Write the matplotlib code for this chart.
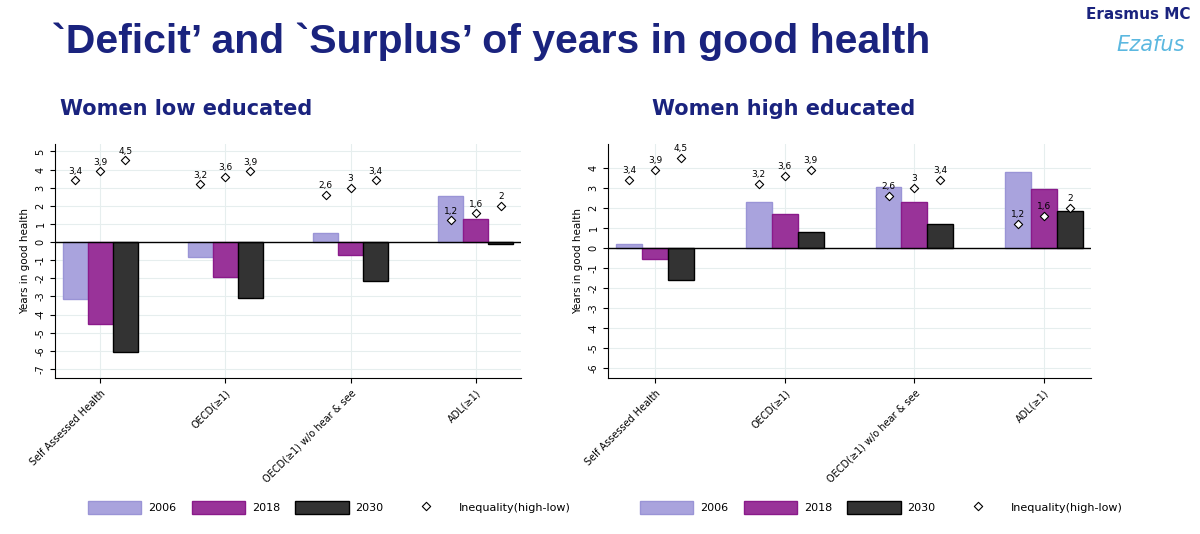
import numpy as np
import matplotlib.pyplot as plt

categories = ["Self Assessed Health", "OECD(≥1)", "OECD(≥1) w/o hear & see", "ADL(≥1)"]
years = ["2006", "2018", "2030"]

# deficit / surplus, women low educated
low_2006 = [-3.15, -0.85, 0.5, 2.55]
low_2018 = [-4.5, -1.9, -0.7, 1.3]
low_2030 = [-6.05, -3.1, -2.15, -0.12]
# women high educated
high_2006 = [0.2, 2.3, 3.05, 3.8]
high_2018 = [-0.55, 1.7, 2.3, 2.95]
high_2030 = [-1.6, 0.8, 1.2, 1.85]
# inequality (high-low), same for both panels
ineq = [[3.4, 3.9, 4.5], [3.2, 3.6, 3.9], [2.6, 3.0, 3.4], [1.2, 1.6, 2.0]]
ineq_labels = [["3,4", "3,9", "4,5"], ["3,2", "3,6", "3,9"], ["2,6", "3", "3,4"], ["1,2", "1,6", "2"]]

fills = ["#a9a3dd", "#993399", "#333333"]
edges = ["#9a94d6", "#8a1a8a", "#000000"]

fig = plt.figure(figsize=(12, 5.34), dpi=100)
fig.text(0.043, 0.9, "`Deficit’ and `Surplus’ of years in good health", fontsize=29.5,
         fontweight="bold", color="#1a237e", family="Liberation Sans")
fig.text(0.905, 0.965, "Erasmus MC", fontsize=11, fontweight="bold", color="#1a237e")
fig.text(0.93, 0.905, "Ezafus", fontsize=15, color="#5bb8e0", style="italic")
fig.text(0.05, 0.785, "Women low educated", fontsize=15, fontweight="bold", color="#1a237e")
fig.text(0.543, 0.785, "Women high educated", fontsize=15, fontweight="bold", color="#1a237e")


def panel(rect, series, ylim, yticks):
    ax = fig.add_axes(rect)
    x = np.arange(len(categories))
    w = 0.2
    for i, vals in enumerate(series):
        ax.bar(x + (i - 1) * w, vals, w, color=fills[i], edgecolor=edges[i], linewidth=1, zorder=3,
               label=years[i])
    for c in range(len(categories)):
        for i in range(3):
            xi = x[c] + (i - 1) * w
            ax.scatter(xi, ineq[c][i], marker="D", s=18, facecolor="white", edgecolor="black",
                       linewidth=0.8, zorder=4, label="Inequality(high-low)" if c == 0 and i == 0 else None)
            ax.text(xi, ineq[c][i] + 0.25, ineq_labels[c][i], fontsize=6.5, ha="center", va="bottom", zorder=5)
    ax.axhline(0, color="black", linewidth=1, zorder=3)
    ax.set_xlim(-0.36, 3.36)
    ax.set_ylim(*ylim)
    ax.set_yticks(yticks)
    ax.set_yticklabels([str(t) for t in yticks], rotation=90, va="center", fontsize=7)
    ax.set_xticks(x)
    ax.set_xticklabels(categories, rotation=45, ha="right", rotation_mode="anchor", fontsize=7)
    ax.set_ylabel("Years in good health", fontsize=7.5)
    ax.grid(True, color="#e6eeee", linewidth=0.8, zorder=0)
    for s in ["top", "right"]:
        ax.spines[s].set_visible(False)
    return ax


ax1 = panel([0.046, 0.292, 0.388, 0.438], [low_2006, low_2018, low_2030], (-7.5, 5.4), list(range(-7, 6)))
ax2 = panel([0.507, 0.292, 0.402, 0.438], [high_2006, high_2018, high_2030], (-6.5, 5.2), list(range(-6, 5)))

for ax, lx in [(ax1, 0.065), (ax2, 0.525)]:
    h, l = ax.get_legend_handles_labels()
    h = h[1:] + h[:1]
    l = l[1:] + l[:1]
    fig.legend(h, l, loc="center left", bbox_to_anchor=(lx, 0.05), ncol=4, frameon=False, fontsize=8,
               handlelength=4.8, handleheight=1.4, columnspacing=1.4, handletextpad=0.6)

fig.savefig("out.png", dpi=100)
